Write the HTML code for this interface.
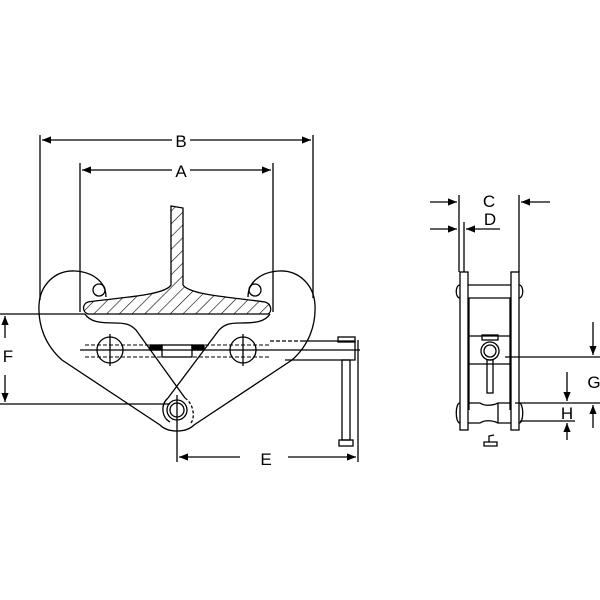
<!DOCTYPE html>
<html><head><style>body{margin:0;background:#fff}svg{display:block}</style></head><body>
<svg width="600" height="600" viewBox="0 0 600 600" xmlns="http://www.w3.org/2000/svg" font-family="Liberation Sans, sans-serif">
<defs>
<pattern id="h" width="9" height="9" patternUnits="userSpaceOnUse" patternTransform="rotate(45)"><line x1="0" y1="0" x2="0" y2="9" stroke="#000" stroke-width="1.2"/></pattern>
<marker id="ar" viewBox="0 0 10 10" refX="10" refY="5" markerWidth="9" markerHeight="9" orient="auto-start-reverse" markerUnits="userSpaceOnUse"><path d="M0,1 L10,5 L0,9 z" fill="#000"/></marker>
</defs>
<g stroke="#000" fill="none" stroke-width="1.3">
<!-- B / A dims -->
<line x1="40" y1="135" x2="40" y2="300"/><line x1="313" y1="135" x2="313" y2="298"/>
<line x1="42" y1="140" x2="172" y2="140" marker-start="url(#ar)"/><line x1="190" y1="140" x2="311" y2="140" marker-end="url(#ar)"/>
<line x1="80" y1="163" x2="80" y2="312"/><line x1="273" y1="163" x2="273" y2="312"/>
<line x1="82" y1="170" x2="172" y2="170" marker-start="url(#ar)"/><line x1="190" y1="170" x2="271" y2="170" marker-end="url(#ar)"/>
<!-- jaws outline -->
<path d="M106,297 C106,282 93,272 75,271 C55,270 40,285 39,305 C38,325 45,345 62,360 L160,425 C168,433 186,433 194,425 L292,360 C309,345 316,325 315,305 C314,285 299,270 279,271 C261,272 248,282 248,297"/>
<path d="M85,314 C90,322 100,323 115,323 C125,323 130,324 136,330 L185,398"/>
<path d="M270,314 C265,322 255,323 240,323 C230,323 225,324 219,330 L168,398"/>
<path d="M168,398 C160,405 162,418 170,422"/>
<path d="M185,398 C195,405 195,420 190,424" stroke-dasharray="3,2"/>
<circle cx="99" cy="290" r="6"/><circle cx="255" cy="290" r="6"/>
<!-- T beam -->
<path d="M171,206 L183,208 L183,285 C190,295 230,297 265,302 C272,304 272,312 268,314 L88,314 C82,312 82,304 88,302 C125,297 165,295 171,285 Z" fill="url(#h)"/>
<!-- axis and holes -->
<line x1="80" y1="350" x2="360" y2="350"/>
<line x1="85" y1="345" x2="270" y2="345" stroke-dasharray="4,2" stroke-width="1"/>
<line x1="85" y1="357" x2="270" y2="357" stroke-dasharray="4,2" stroke-width="1"/>
<circle cx="110" cy="350" r="13"/><circle cx="243" cy="350" r="13"/>
<line x1="110" y1="334" x2="110" y2="366"/><line x1="243" y1="334" x2="243" y2="366"/>
<rect x="162" y="345" width="30" height="12"/>
<rect x="150" y="345" width="12" height="5" fill="#000"/><rect x="192" y="345" width="12" height="5" fill="#000"/>
<!-- handle -->
<path d="M300,341 L355,341 L355,360 L285,360" />
<line x1="270" y1="341" x2="300" y2="341" stroke-dasharray="4,2"/>
<rect x="338" y="337" width="17" height="5"/>
<rect x="342" y="360" width="8" height="80"/>
<rect x="339" y="440" width="14" height="6"/>
<line x1="358" y1="340" x2="358" y2="462"/>
<!-- pivot -->
<circle cx="177" cy="410" r="10"/><circle cx="177" cy="410" r="7"/>
<line x1="177" y1="395" x2="177" y2="462"/>
<!-- F -->
<line x1="0" y1="314" x2="85" y2="314"/><line x1="0" y1="404" x2="170" y2="404"/>
<line x1="5" y1="338" x2="5" y2="316" marker-end="url(#ar)"/><line x1="5" y1="375" x2="5" y2="402" marker-end="url(#ar)"/>
<!-- E -->
<line x1="240" y1="457" x2="179" y2="457" marker-end="url(#ar)"/><line x1="288" y1="457" x2="356" y2="457" marker-end="url(#ar)"/>
<!-- right view -->
<line x1="459" y1="195" x2="459" y2="272"/><line x1="519" y1="195" x2="519" y2="272"/>
<line x1="464" y1="222" x2="464" y2="272"/>
<line x1="430" y1="202" x2="457" y2="202" marker-end="url(#ar)"/><line x1="550" y1="202" x2="521" y2="202" marker-end="url(#ar)"/>
<line x1="430" y1="229" x2="457" y2="229" marker-end="url(#ar)"/><line x1="500" y1="229" x2="466" y2="229" marker-end="url(#ar)"/>
<rect x="460" y="272" width="8" height="158"/><rect x="511" y="272" width="8" height="158"/>
<path d="M460,285 C455,285 455,298 460,298 M519,285 C524,285 524,298 519,298"/>
<line x1="468" y1="285" x2="511" y2="285"/><line x1="468" y1="298" x2="511" y2="298"/>
<line x1="469" y1="298" x2="469" y2="410"/><line x1="510" y1="298" x2="510" y2="410"/>
<line x1="468" y1="336" x2="511" y2="336"/><line x1="468" y1="364" x2="511" y2="364"/>
<rect x="482" y="335" width="16" height="5"/>
<circle cx="490" cy="351" r="9"/><circle cx="490" cy="351" r="6"/>
<rect x="487" y="360" width="6" height="33"/>
<path d="M460,403 C455,403 455,423 460,423 M519,403 C524,403 524,423 519,423"/>
<path d="M468,403 L480,403 C484,406 492,406 498,403 L511,403 M468,423 L480,423 C484,420 492,420 498,423 L511,423"/>
<line x1="498" y1="403" x2="498" y2="423"/>
<line x1="505" y1="357" x2="600" y2="357"/>
<line x1="515" y1="403" x2="600" y2="403"/><line x1="520" y1="421" x2="575" y2="421"/>
<line x1="593" y1="322" x2="593" y2="355" marker-end="url(#ar)"/>
<line x1="593" y1="428" x2="593" y2="405" marker-end="url(#ar)"/>
<line x1="567" y1="372" x2="567" y2="401" marker-end="url(#ar)"/>
<line x1="567" y1="440" x2="567" y2="423" marker-end="url(#ar)"/>
<path d="M484,446 L497,446 L497,442 L484,442 Z M489,442 L489,436 L494,435"/>
</g>
<g font-size="17" fill="#000" text-anchor="middle">
<text x="181" y="147">B</text><text x="181" y="177">A</text>
<text x="8" y="362">F</text><text x="266" y="465">E</text>
<text x="489" y="207">C</text><text x="490" y="225">D</text>
<text x="594" y="388">G</text><text x="567" y="419">H</text>
</g>
</svg>
</body></html>
